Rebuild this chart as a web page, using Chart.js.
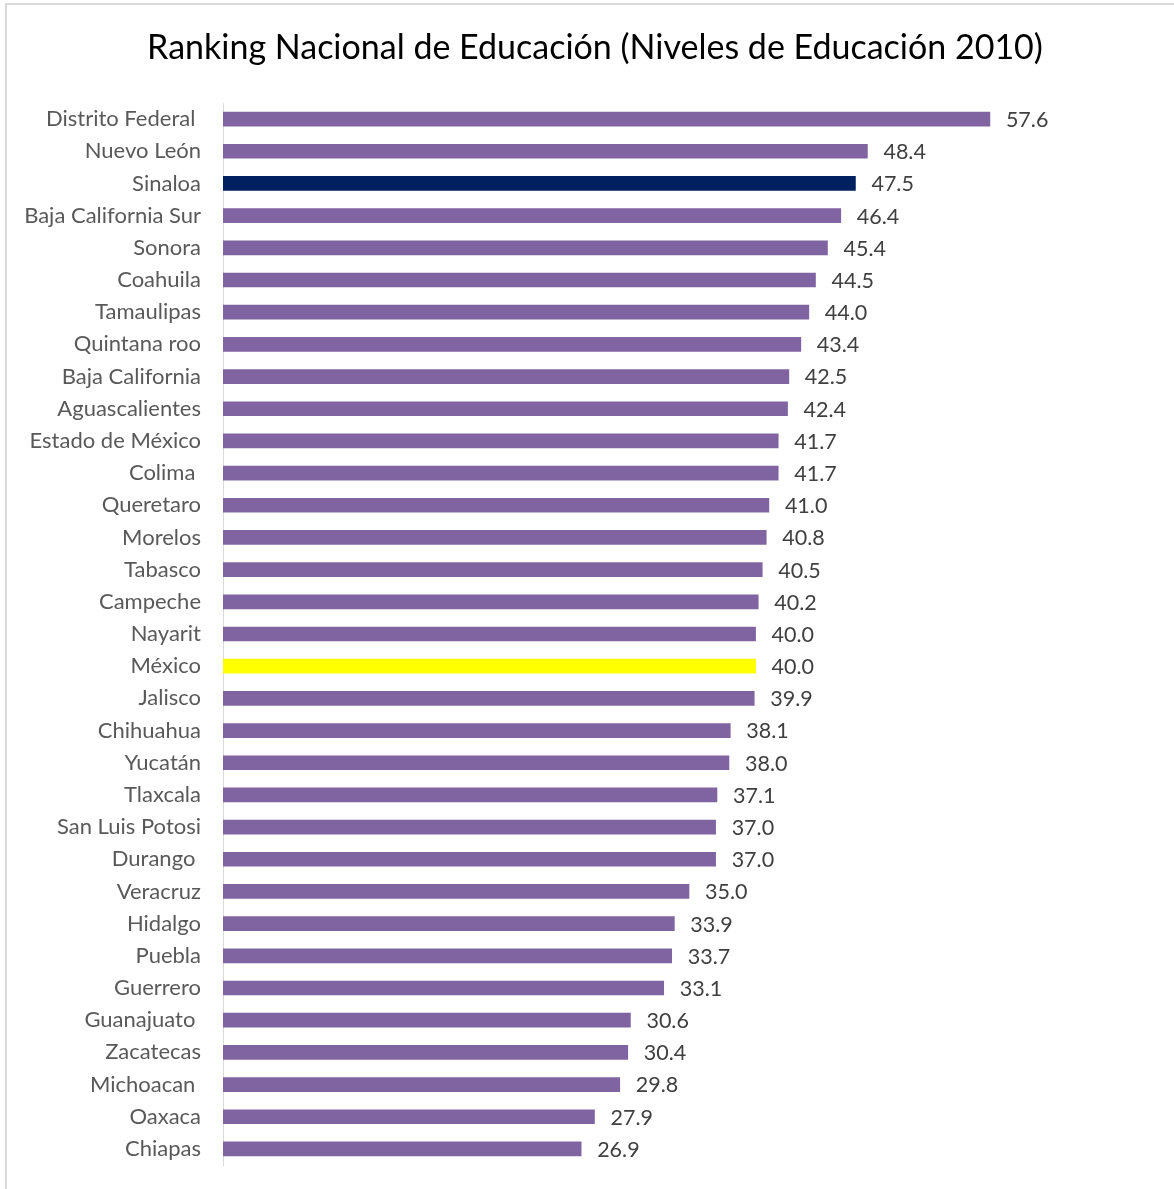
<!DOCTYPE html>
<html>
<head>
<meta charset="utf-8">
<script src="https://cdn.jsdelivr.net/npm/chart.js@4"></script>
<style>
  html, body { margin: 0; padding: 0; background: #fff; }
  .frame {
    position: absolute; left: 5px; top: 3px; width: 1200px; height: 1200px;
    border-left: 2px solid #d9d9d9; border-top: 2px solid #d9d9d9;
  }
  .graph-container { position: absolute; left: 0; top: 0; width: 1174px; height: 1189px; }
</style>
</head>
<body>
<div class="frame"></div>
<div class="graph-container">
  <canvas id="chart"></canvas>
</div>
<script>
// Données du graphique
const titulo = 'Ranking Nacional de Educación (Niveles de Educación 2010)';
const estados = ['Distrito Federal ', 'Nuevo León', 'Sinaloa', 'Baja California Sur', 'Sonora',
  'Coahuila', 'Tamaulipas', 'Quintana roo', 'Baja California', 'Aguascalientes',
  'Estado de México', 'Colima ', 'Queretaro', 'Morelos', 'Tabasco', 'Campeche', 'Nayarit',
  'México', 'Jalisco', 'Chihuahua', 'Yucatán', 'Tlaxcala', 'San Luis Potosi', 'Durango ',
  'Veracruz', 'Hidalgo', 'Puebla', 'Guerrero', 'Guanajuato ', 'Zacatecas', 'Michoacan ',
  'Oaxaca', 'Chiapas'];
const niveles = [57.6, 48.4, 47.5, 46.4, 45.4, 44.5, 44.0, 43.4, 42.5, 42.4, 41.7, 41.7,
  41.0, 40.8, 40.5, 40.2, 40.0, 40.0, 39.9, 38.1, 38.0, 37.1, 37.0, 37.0, 35.0, 33.9,
  33.7, 33.1, 30.6, 30.4, 29.8, 27.9, 26.9];

// Couleurs : Sinaloa en bleu foncé, México en jaune
const colores = estados.map(e => e === 'Sinaloa' ? '#002060' : (e === 'México' ? '#FFFF00' : '#8064A2'));

const FONT = 'Lato, "Open Sans", sans-serif';

// Titre (un peu décalé à droite comme dans l'original)
const tituloPlugin = {
  id: 'tituloPlugin',
  afterDraw(chart) {
    const ctx = chart.ctx;
    ctx.save();
    ctx.font = '34px ' + FONT;
    ctx.fillStyle = '#000000';
    ctx.textAlign = 'center';
    ctx.textBaseline = 'middle';
    ctx.fillText(titulo, 595, 48);
    ctx.restore();
  }
};

// Étiquettes de valeur à droite des barres
const etiquetas = {
  id: 'etiquetas',
  afterDatasetsDraw(chart) {
    const ctx = chart.ctx;
    const meta = chart.getDatasetMeta(0);
    ctx.save();
    ctx.font = '21.5px ' + FONT;
    ctx.fillStyle = '#404040';
    ctx.textBaseline = 'middle';
    ctx.textAlign = 'left';
    meta.data.forEach((bar, i) => {
      ctx.fillText(niveles[i].toFixed(1), bar.x + 16, bar.y + 1);
    });
    ctx.restore();
  }
};

new Chart(document.getElementById('chart'), {
  type: 'bar',
  data: {
    labels: estados,
    datasets: [{
      data: niveles,
      backgroundColor: colores,
      borderWidth: 0,
      barThickness: 14
    }]
  },
  options: {
    indexAxis: 'y',
    responsive: true,
    maintainAspectRatio: false,
    animation: false,
    layout: { padding: { left: 0, right: 19, top: 103, bottom: 24 } },
    scales: {
      x: {
        display: false,
        min: 0,
        max: 70
      },
      y: {
        afterFit(scale) {
          scale.width = 223;
          scale.paddingTop = 0;
          scale.paddingBottom = 0;
        },
        grid: { display: false, drawTicks: false },
        border: { display: true, color: '#d9d9d9', width: 1 },
        ticks: {
          padding: 22,
          color: '#595959',
          font: { family: FONT, size: 22 }
        }
      }
    },
    plugins: {
      legend: { display: false },
      tooltip: { enabled: false },
      title: { display: false }
    }
  },
  plugins: [etiquetas, tituloPlugin]
});
</script>
</body>
</html>
